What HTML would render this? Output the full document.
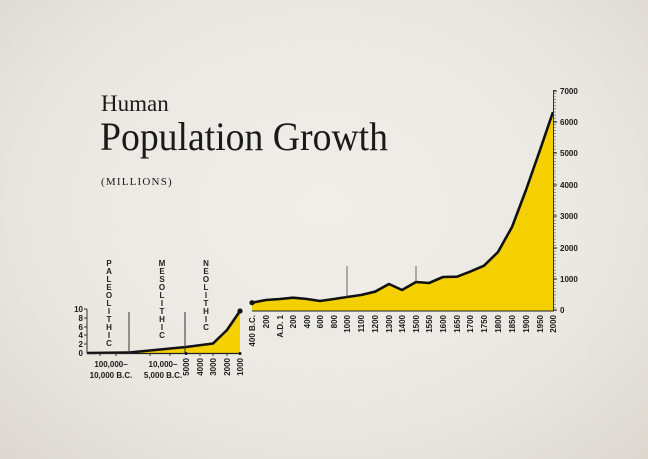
<!DOCTYPE html>
<html><head><meta charset="utf-8"><style>
html,body{margin:0;padding:0;width:648px;height:459px;overflow:hidden;}
body{background:radial-gradient(ellipse at 50% 45%,#f0eee9 0%,#ebe8e2 60%,#dcd8d0 100%);}
svg{display:block;}
.s{font-family:"Liberation Sans",sans-serif;font-weight:bold;font-size:8px;fill:#1a1a1a;}
.e{font-family:"Liberation Sans",sans-serif;font-weight:bold;font-size:8px;fill:#222;text-anchor:middle;}
</style></head><body>
<svg width="648" height="459" viewBox="0 0 648 459" xmlns="http://www.w3.org/2000/svg">
<text x="101" y="111" font-family="Liberation Serif,serif" font-size="23" fill="#1a1a1a">Human</text>
<text x="100" y="150" font-family="Liberation Serif,serif" font-size="40" fill="#1a1a1a" textLength="288" lengthAdjust="spacingAndGlyphs">Population Growth</text>
<text x="101" y="185" font-family="Liberation Serif,serif" font-size="11" letter-spacing="1.2" fill="#1a1a1a">(MILLIONS)</text>

<!-- left chart -->
<polygon points="87,353 129,352.5 186,347 213,343.5 227,330 240,311 240,353" fill="#f5d000"/>
<polyline points="87,353 129,352.5 186,347 213,343.5 227,330 240,311" fill="none" stroke="#111" stroke-width="2.6" stroke-linejoin="round"/>
<circle cx="240" cy="311" r="2.6" fill="#111"/>
<line x1="87" y1="309" x2="87" y2="353.5" stroke="#333" stroke-width="1"/>
<line x1="87" y1="353.5" x2="241" y2="353.5" stroke="#222" stroke-width="1.2"/>
<g stroke="#333" stroke-width="1">
<line x1="84" y1="309" x2="87" y2="309"/><line x1="84" y1="318" x2="87" y2="318"/><line x1="84" y1="327" x2="87" y2="327"/><line x1="84" y1="335" x2="87" y2="335"/><line x1="84" y1="344" x2="87" y2="344"/>
<line x1="129" y1="312" x2="129" y2="353"/><line x1="185" y1="312" x2="185" y2="353"/>
<line x1="100" y1="353" x2="100" y2="356"/><line x1="116" y1="353" x2="116" y2="356"/><line x1="150" y1="353" x2="150" y2="356"/><line x1="170" y1="353" x2="170" y2="356"/>
<line x1="200" y1="353" x2="200" y2="356"/><line x1="213" y1="353" x2="213" y2="356"/><line x1="227" y1="353" x2="227" y2="356"/>
</g>
<circle cx="186" cy="353.5" r="1.5" fill="#111"/><circle cx="240" cy="353.5" r="1.5" fill="#111"/>
<g class="s" text-anchor="end">
<text x="83" y="312">10</text><text x="83" y="321">8</text><text x="83" y="330">6</text><text x="83" y="338">4</text><text x="83" y="347">2</text><text x="83" y="356">0</text>
</g>
<g class="s" text-anchor="middle">
<text x="111" y="367">100,000–</text><text x="111" y="378">10,000 B.C.</text>
<text x="163" y="367">10,000–</text><text x="163" y="378">5,000 B.C.</text>
</g>
<g class="s" text-anchor="end">
<text transform="translate(189,358) rotate(-90)">5000</text>
<text transform="translate(203,358) rotate(-90)">4000</text>
<text transform="translate(216,358) rotate(-90)">3000</text>
<text transform="translate(230,358) rotate(-90)">2000</text>
<text transform="translate(243,358) rotate(-90)">1000</text>
</g>
<g class="e">
<text x="109" y="266">P</text><text x="109" y="274">A</text><text x="109" y="282">L</text><text x="109" y="290">E</text><text x="109" y="298">O</text><text x="109" y="306">L</text><text x="109" y="314">I</text><text x="109" y="322">T</text><text x="109" y="330">H</text><text x="109" y="338">I</text><text x="109" y="346">C</text>
<text x="162" y="266">M</text><text x="162" y="274">E</text><text x="162" y="282">S</text><text x="162" y="290">O</text><text x="162" y="298">L</text><text x="162" y="306">I</text><text x="162" y="314">T</text><text x="162" y="322">H</text><text x="162" y="330">I</text><text x="162" y="338">C</text>
<text x="206" y="266">N</text><text x="206" y="274">E</text><text x="206" y="282">O</text><text x="206" y="290">L</text><text x="206" y="298">I</text><text x="206" y="306">T</text><text x="206" y="314">H</text><text x="206" y="322">I</text><text x="206" y="330">C</text>
</g>

<!-- right chart -->
<polygon points="252,302.7 266,300 280,299 293,297.7 307,299 320,301 334,299 347,297 361,295 375,291.7 389,284 402,290 416,282 429,283 443,277 457,276.7 470,271.7 484,265.7 498,252 512,227 526,190 540,150 553,112 553,311 252,311" fill="#f5d000"/>
<polyline points="252,302.7 266,300 280,299 293,297.7 307,299 320,301 334,299 347,297 361,295 375,291.7 389,284 402,290 416,282 429,283 443,277 457,276.7 470,271.7 484,265.7 498,252 512,227 526,190 540,150 553,112" fill="none" stroke="#111" stroke-width="2.6" stroke-linejoin="round"/>
<circle cx="252" cy="302.7" r="2.6" fill="#111"/>
<line x1="347" y1="266" x2="347" y2="297" stroke="#444" stroke-width="0.8"/>
<line x1="416" y1="266" x2="416" y2="282" stroke="#444" stroke-width="0.8"/>
<line x1="252" y1="311" x2="554" y2="311" stroke="#222" stroke-width="1"/>
<line x1="553.5" y1="90" x2="553.5" y2="311" stroke="#333" stroke-width="1"/>
<line x1="555" y1="90" x2="555" y2="311" stroke="#555" stroke-width="2" stroke-dasharray="0.6 2.5"/>
<g stroke="#222" stroke-width="1">
<line x1="553" y1="91" x2="557" y2="91"/><line x1="553" y1="122" x2="557" y2="122"/><line x1="553" y1="153" x2="557" y2="153"/><line x1="553" y1="185" x2="557" y2="185"/><line x1="553" y1="216" x2="557" y2="216"/><line x1="553" y1="248" x2="557" y2="248"/><line x1="553" y1="279" x2="557" y2="279"/><line x1="553" y1="310" x2="557" y2="310"/>
</g>
<g class="s">
<text x="560" y="94">7000</text><text x="560" y="125">6000</text><text x="560" y="156">5000</text><text x="560" y="188">4000</text><text x="560" y="219">3000</text><text x="560" y="251">2000</text><text x="560" y="282">1000</text><text x="560" y="313">0</text>
</g>
<g class="s" text-anchor="end">
<text transform="translate(255,315) rotate(-90)">400 B.C.</text>
<text transform="translate(269,315) rotate(-90)">200</text>
<text transform="translate(283,315) rotate(-90)">A.D. 1</text>
<text transform="translate(296,315) rotate(-90)">200</text>
<text transform="translate(310,315) rotate(-90)">400</text>
<text transform="translate(323,315) rotate(-90)">600</text>
<text transform="translate(337,315) rotate(-90)">800</text>
<text transform="translate(350,315) rotate(-90)">1000</text>
<text transform="translate(364,315) rotate(-90)">1100</text>
<text transform="translate(378,315) rotate(-90)">1200</text>
<text transform="translate(392,315) rotate(-90)">1300</text>
<text transform="translate(405,315) rotate(-90)">1400</text>
<text transform="translate(419,315) rotate(-90)">1500</text>
<text transform="translate(432,315) rotate(-90)">1550</text>
<text transform="translate(446,315) rotate(-90)">1600</text>
<text transform="translate(460,315) rotate(-90)">1650</text>
<text transform="translate(473,315) rotate(-90)">1700</text>
<text transform="translate(487,315) rotate(-90)">1750</text>
<text transform="translate(501,315) rotate(-90)">1800</text>
<text transform="translate(515,315) rotate(-90)">1850</text>
<text transform="translate(529,315) rotate(-90)">1900</text>
<text transform="translate(543,315) rotate(-90)">1950</text>
<text transform="translate(556,315) rotate(-90)">2000</text>
</g>
</svg>
</body></html>
